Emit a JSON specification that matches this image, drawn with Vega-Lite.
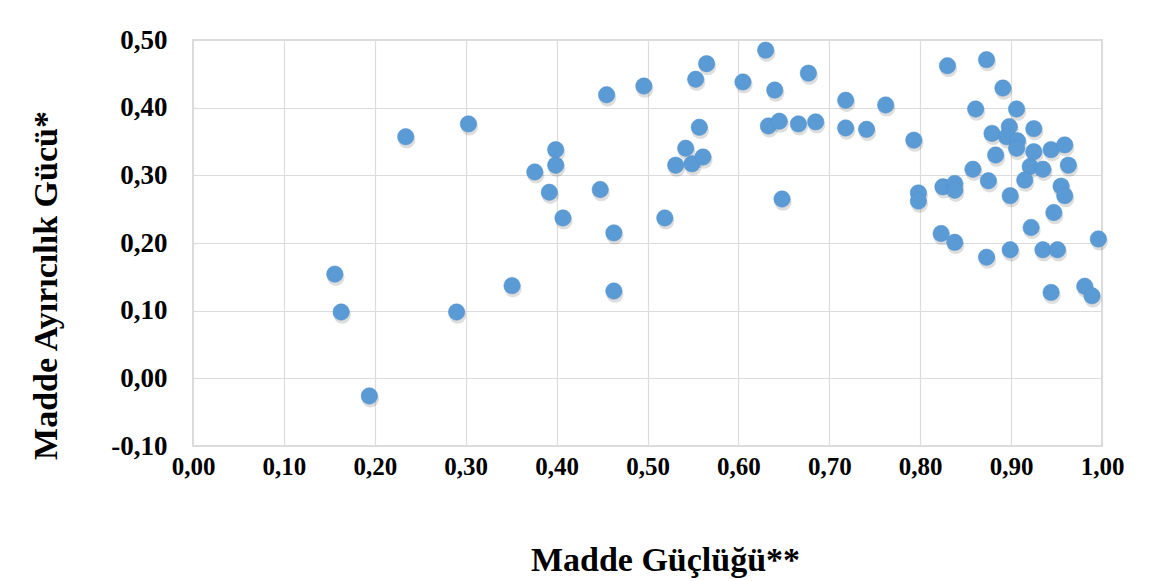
{
  "$schema": "https://vega.github.io/schema/vega-lite/v6.json",
  "width": 909,
  "height": 406,
  "autosize": {"type": "none"},
  "padding": {"left": 193, "top": 40, "right": 60, "bottom": 135},
  "background": "white",
  "config": {
    "view": {"stroke": "#d0d0d0", "strokeWidth": 1.5},
    "font": "Liberation Serif"
  },
  "data": {
    "values": [
      {"guc": 0.156, "ayir": 0.154}, {"guc": 0.163, "ayir": 0.098}, {"guc": 0.194, "ayir": -0.026},
      {"guc": 0.234, "ayir": 0.357}, {"guc": 0.303, "ayir": 0.376}, {"guc": 0.290, "ayir": 0.098},
      {"guc": 0.351, "ayir": 0.137}, {"guc": 0.376, "ayir": 0.305}, {"guc": 0.392, "ayir": 0.275},
      {"guc": 0.399, "ayir": 0.338}, {"guc": 0.399, "ayir": 0.315}, {"guc": 0.407, "ayir": 0.237},
      {"guc": 0.448, "ayir": 0.279}, {"guc": 0.455, "ayir": 0.419}, {"guc": 0.463, "ayir": 0.215},
      {"guc": 0.463, "ayir": 0.129}, {"guc": 0.496, "ayir": 0.432}, {"guc": 0.519, "ayir": 0.237},
      {"guc": 0.531, "ayir": 0.315}, {"guc": 0.542, "ayir": 0.340}, {"guc": 0.549, "ayir": 0.317},
      {"guc": 0.561, "ayir": 0.327}, {"guc": 0.557, "ayir": 0.371}, {"guc": 0.553, "ayir": 0.442},
      {"guc": 0.565, "ayir": 0.465}, {"guc": 0.605, "ayir": 0.438}, {"guc": 0.630, "ayir": 0.485},
      {"guc": 0.640, "ayir": 0.426}, {"guc": 0.633, "ayir": 0.373}, {"guc": 0.645, "ayir": 0.380},
      {"guc": 0.648, "ayir": 0.265}, {"guc": 0.666, "ayir": 0.376}, {"guc": 0.677, "ayir": 0.451},
      {"guc": 0.685, "ayir": 0.379}, {"guc": 0.718, "ayir": 0.411}, {"guc": 0.718, "ayir": 0.370},
      {"guc": 0.741, "ayir": 0.368}, {"guc": 0.762, "ayir": 0.404}, {"guc": 0.793, "ayir": 0.352},
      {"guc": 0.798, "ayir": 0.274}, {"guc": 0.798, "ayir": 0.262},
      {"guc": 0.830, "ayir": 0.462}, {"guc": 0.873, "ayir": 0.471}, {"guc": 0.891, "ayir": 0.429},
      {"guc": 0.861, "ayir": 0.398}, {"guc": 0.906, "ayir": 0.398}, {"guc": 0.879, "ayir": 0.362},
      {"guc": 0.898, "ayir": 0.372}, {"guc": 0.895, "ayir": 0.357}, {"guc": 0.907, "ayir": 0.351},
      {"guc": 0.906, "ayir": 0.340}, {"guc": 0.925, "ayir": 0.369}, {"guc": 0.883, "ayir": 0.330},
      {"guc": 0.925, "ayir": 0.335}, {"guc": 0.944, "ayir": 0.338}, {"guc": 0.959, "ayir": 0.345},
      {"guc": 0.963, "ayir": 0.315}, {"guc": 0.921, "ayir": 0.313}, {"guc": 0.935, "ayir": 0.309},
      {"guc": 0.915, "ayir": 0.293}, {"guc": 0.858, "ayir": 0.309}, {"guc": 0.875, "ayir": 0.292},
      {"guc": 0.825, "ayir": 0.283}, {"guc": 0.838, "ayir": 0.288}, {"guc": 0.838, "ayir": 0.278},
      {"guc": 0.899, "ayir": 0.270}, {"guc": 0.955, "ayir": 0.284}, {"guc": 0.959, "ayir": 0.270},
      {"guc": 0.947, "ayir": 0.245}, {"guc": 0.922, "ayir": 0.223}, {"guc": 0.823, "ayir": 0.214},
      {"guc": 0.838, "ayir": 0.201}, {"guc": 0.996, "ayir": 0.206}, {"guc": 0.873, "ayir": 0.179},
      {"guc": 0.899, "ayir": 0.190}, {"guc": 0.935, "ayir": 0.190}, {"guc": 0.951, "ayir": 0.190},
      {"guc": 0.944, "ayir": 0.127}, {"guc": 0.981, "ayir": 0.136}, {"guc": 0.989, "ayir": 0.122}
    ]
  },
  "encoding": {
    "x": {
      "field": "guc", "type": "quantitative",
      "scale": {"domain": [0, 1], "nice": false, "zero": false},
      "axis": {
        "title": "Madde Güçlüğü**",
        "values": [0, 0.1, 0.2, 0.3, 0.4, 0.5, 0.6, 0.7, 0.8, 0.9, 1.0],
        "labelExpr": "replace(replace(format(datum.value, '.2f'), '.', ','), '−', '-')",
        "labelFont": "Liberation Serif", "labelFontSize": 25, "labelFontWeight": "bold", "labelColor": "#000",
        "labelPadding": 8, "labelFlush": false, "labelOverlap": false, "ticks": false, "domain": false,
        "grid": true, "gridColor": "#dcdcdc", "gridWidth": 1.2,
        "titleFont": "Liberation Serif", "titleFontSize": 34, "titleFontWeight": "bold", "titleColor": "#000",
        "titleX": 472, "titleY": 114, "titleAlign": "center", "titleBaseline": "middle"
      }
    },
    "y": {
      "field": "ayir", "type": "quantitative",
      "scale": {"domain": [-0.1, 0.5], "nice": false, "zero": false},
      "axis": {
        "title": "Madde Ayırıcılık Gücü*",
        "values": [-0.1, 0, 0.1, 0.2, 0.3, 0.4, 0.5],
        "labelExpr": "replace(replace(format(datum.value, '.2f'), '.', ','), '−', '-')",
        "labelFont": "Liberation Serif", "labelFontSize": 27, "labelFontWeight": "bold", "labelColor": "#000",
        "labelPadding": 26, "labelFlush": false, "labelOverlap": false, "ticks": false, "domain": false,
        "grid": true, "gridColor": "#dcdcdc", "gridWidth": 1.2,
        "titleFont": "Liberation Serif", "titleFontSize": 34, "titleFontWeight": "bold", "titleColor": "#000",
        "titleAngle": -90, "titleX": -147, "titleY": 245, "titleAlign": "center", "titleBaseline": "middle"
      }
    }
  },
  "layer": [
    {
      "mark": {"type": "circle", "size": 300, "fill": "#000", "opacity": 0.13, "yOffset": 3, "xOffset": 1}
    },
    {
      "mark": {"type": "circle", "size": 270, "fill": "#5b9bd5", "opacity": 1, "stroke": "#4f8fcc", "strokeWidth": 0.5}
    }
  ]
}
